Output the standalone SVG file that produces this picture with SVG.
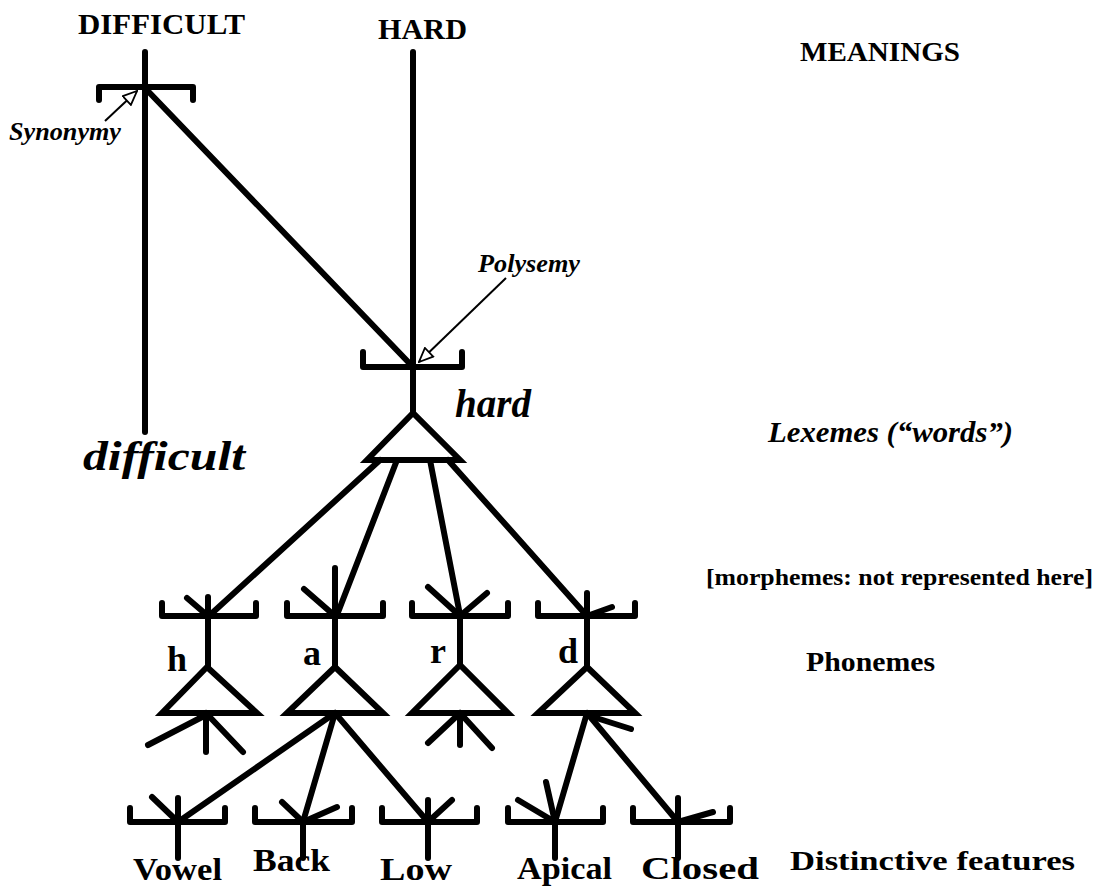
<svg xmlns="http://www.w3.org/2000/svg" width="1099" height="888" viewBox="0 0 1099 888">
  <style>
    .ln { stroke: #000; stroke-width: 6; stroke-linecap: round; stroke-linejoin: round; fill: none; }
    .ptr { stroke: #000; stroke-width: 2; fill: none; }
    .tri { stroke: #000; stroke-width: 6; stroke-linejoin: miter; fill: none; }
    text { font-family: "Liberation Serif", "Times New Roman", serif; font-weight: bold; fill: #000; }
    .it { font-style: italic; }
  </style>
  <defs>
    <!-- hollow arrowhead used by the two annotation pointers -->
    <marker id="hollow" viewBox="0 0 16 14" refX="15" refY="7" markerWidth="16" markerHeight="14" markerUnits="userSpaceOnUse" orient="auto">
      <path d="M1,1 L15,7 L1,13 Z" fill="#fff" stroke="#000" stroke-width="1.8"/>
    </marker>
  </defs>

  <rect width="1099" height="888" fill="#fff"/>

  <!-- stratum labels -->
  <g id="labels">
    <text x="800" y="61" font-size="27" textLength="160" lengthAdjust="spacingAndGlyphs">MEANINGS</text>
    <text class="it" x="768" y="442" font-size="29" textLength="245" lengthAdjust="spacingAndGlyphs">Lexemes (“words”)</text>
    <text x="706" y="585" font-size="24" textLength="387" lengthAdjust="spacingAndGlyphs">[morphemes: not represented here]</text>
    <text x="806" y="671" font-size="27" textLength="129" lengthAdjust="spacingAndGlyphs">Phonemes</text>
    <text x="790" y="870" font-size="28" textLength="285" lengthAdjust="spacingAndGlyphs">Distinctive features</text>
  </g>

  <!-- meaning DIFFICULT: downward bracket, shared by two lexemes -->
  <g id="meaning-difficult">
    <text x="78" y="34" font-size="29" textLength="167" lengthAdjust="spacingAndGlyphs">DIFFICULT</text>
    <path class="ln" d="M99,100 V87 H193 V100"/>
    <line class="ln" x1="145" y1="52" x2="145" y2="87"/>
  </g>

  <!-- meaning HARD -->
  <g id="meaning-hard">
    <text x="378" y="39" font-size="29" textLength="89" lengthAdjust="spacingAndGlyphs">HARD</text>
  </g>

  <!-- lexeme difficult -->
  <g id="lexeme-difficult">
    <text class="it" x="83" y="470" font-size="42" textLength="162" lengthAdjust="spacingAndGlyphs">difficult</text>
  </g>

  <!-- lexeme hard: upward bracket and downward AND triangle -->
  <g id="lexeme-hard">
    <path class="ln" d="M363,352 V367 H462 V352"/>
    <path class="tri" d="M413,413 L367,460 H460 Z"/>
    <text class="it" x="455" y="417" font-size="39" textLength="76" lengthAdjust="spacingAndGlyphs">hard</text>
  </g>

  <!-- phonemes -->
  <g id="phoneme-h">
    <path class="ln" d="M162,603 V616 H256 V603"/>
    <path class="tri" d="M207,667 L162,713 H257 Z"/>
    <line class="ln" x1="208" y1="597" x2="208" y2="667"/>
    <line class="ln" x1="187" y1="598" x2="208" y2="616"/>
    <line class="ln" x1="206" y1="715" x2="148" y2="745"/>
    <line class="ln" x1="206" y1="713" x2="206" y2="752"/>
    <line class="ln" x1="206" y1="713" x2="243" y2="752"/>
    <text x="167" y="671" font-size="36">h</text>
  </g>
  <g id="phoneme-a">
    <path class="ln" d="M287,603 V616 H383 V603"/>
    <path class="tri" d="M335,667 L287,713 H383 Z"/>
    <line class="ln" x1="335" y1="568" x2="335" y2="667"/>
    <line class="ln" x1="304" y1="589" x2="335" y2="616"/>
    <text x="303" y="665" font-size="36">a</text>
  </g>
  <g id="phoneme-r">
    <path class="ln" d="M412,603 V616 H508 V603"/>
    <path class="tri" d="M460,665 L412,713 H508 Z"/>
    <line class="ln" x1="460" y1="616" x2="460" y2="665"/>
    <line class="ln" x1="428" y1="587" x2="460" y2="616"/>
    <line class="ln" x1="460" y1="616" x2="487" y2="593"/>
    <line class="ln" x1="460" y1="713" x2="460" y2="745"/>
    <line class="ln" x1="460" y1="713" x2="428" y2="743"/>
    <line class="ln" x1="460" y1="713" x2="492" y2="748"/>
    <text x="430" y="663" font-size="36">r</text>
  </g>
  <g id="phoneme-d">
    <path class="ln" d="M538,603 V616 H635 V603"/>
    <path class="tri" d="M587,667 L538,713 H635 Z"/>
    <line class="ln" x1="587" y1="593" x2="587" y2="667"/>
    <line class="ln" x1="587" y1="616" x2="612" y2="607"/>
    <line class="ln" x1="590" y1="716" x2="631" y2="729"/>
    <text x="558" y="663" font-size="36">d</text>
  </g>

  <!-- distinctive features -->
  <g id="feature-vowel">
    <path class="ln" d="M130,808 V822 H225 V808"/>
    <line class="ln" x1="178" y1="798" x2="178" y2="858"/>
    <line class="ln" x1="152" y1="797" x2="178" y2="822"/>
    <text x="133" y="880" font-size="32" textLength="89" lengthAdjust="spacingAndGlyphs">Vowel</text>
  </g>
  <g id="feature-back">
    <path class="ln" d="M255,808 V822 H352 V808"/>
    <line class="ln" x1="303" y1="822" x2="303" y2="858"/>
    <line class="ln" x1="282" y1="802" x2="303" y2="822"/>
    <line class="ln" x1="303" y1="822" x2="337" y2="807"/>
    <text x="253" y="871" font-size="32" textLength="77" lengthAdjust="spacingAndGlyphs">Back</text>
  </g>
  <g id="feature-low">
    <path class="ln" d="M382,808 V822 H477 V808"/>
    <line class="ln" x1="428" y1="800" x2="428" y2="858"/>
    <line class="ln" x1="428" y1="822" x2="452" y2="800"/>
    <text x="380" y="880" font-size="32" textLength="72" lengthAdjust="spacingAndGlyphs">Low</text>
  </g>
  <g id="feature-apical">
    <path class="ln" d="M508,808 V822 H603 V808"/>
    <line class="ln" x1="555" y1="822" x2="555" y2="858"/>
    <line class="ln" x1="518" y1="800" x2="555" y2="822"/>
    <line class="ln" x1="546" y1="782" x2="555" y2="822"/>
    <text x="517" y="879" font-size="32" textLength="95" lengthAdjust="spacingAndGlyphs">Apical</text>
  </g>
  <g id="feature-closed">
    <path class="ln" d="M633,808 V822 H730 V808"/>
    <line class="ln" x1="678" y1="798" x2="678" y2="858"/>
    <line class="ln" x1="678" y1="822" x2="713" y2="812"/>
    <text x="641" y="879" font-size="32" textLength="118" lengthAdjust="spacingAndGlyphs">Closed</text>
  </g>

  <!-- connections between strata -->
  <g id="connectors">
    <line class="ln" x1="145" y1="87" x2="145" y2="432"/>
    <line class="ln" x1="413" y1="52" x2="413" y2="413"/>
    <line class="ln" x1="145" y1="88" x2="413" y2="367"/>
    <line class="ln" x1="380" y1="460" x2="210" y2="615"/>
    <line class="ln" x1="397" y1="460" x2="337" y2="615"/>
    <line class="ln" x1="430" y1="460" x2="460" y2="615"/>
    <line class="ln" x1="448" y1="460" x2="587" y2="616"/>
    <line class="ln" x1="335" y1="713" x2="178" y2="822"/>
    <line class="ln" x1="335" y1="713" x2="303" y2="822"/>
    <line class="ln" x1="335" y1="713" x2="428" y2="822"/>
    <line class="ln" x1="587" y1="713" x2="555" y2="822"/>
    <line class="ln" x1="587" y1="713" x2="678" y2="822"/>
  </g>

  <!-- annotation pointers -->
  <g id="annotations">
    <line class="ptr" x1="105" y1="121" x2="137" y2="91" marker-end="url(#hollow)"/>
    <text class="it" x="9" y="140" font-size="25" textLength="112" lengthAdjust="spacingAndGlyphs">Synonymy</text>
    <line class="ptr" x1="506" y1="278" x2="419" y2="362" marker-end="url(#hollow)"/>
    <text class="it" x="478" y="272" font-size="25" textLength="102" lengthAdjust="spacingAndGlyphs">Polysemy</text>
  </g>
</svg>
